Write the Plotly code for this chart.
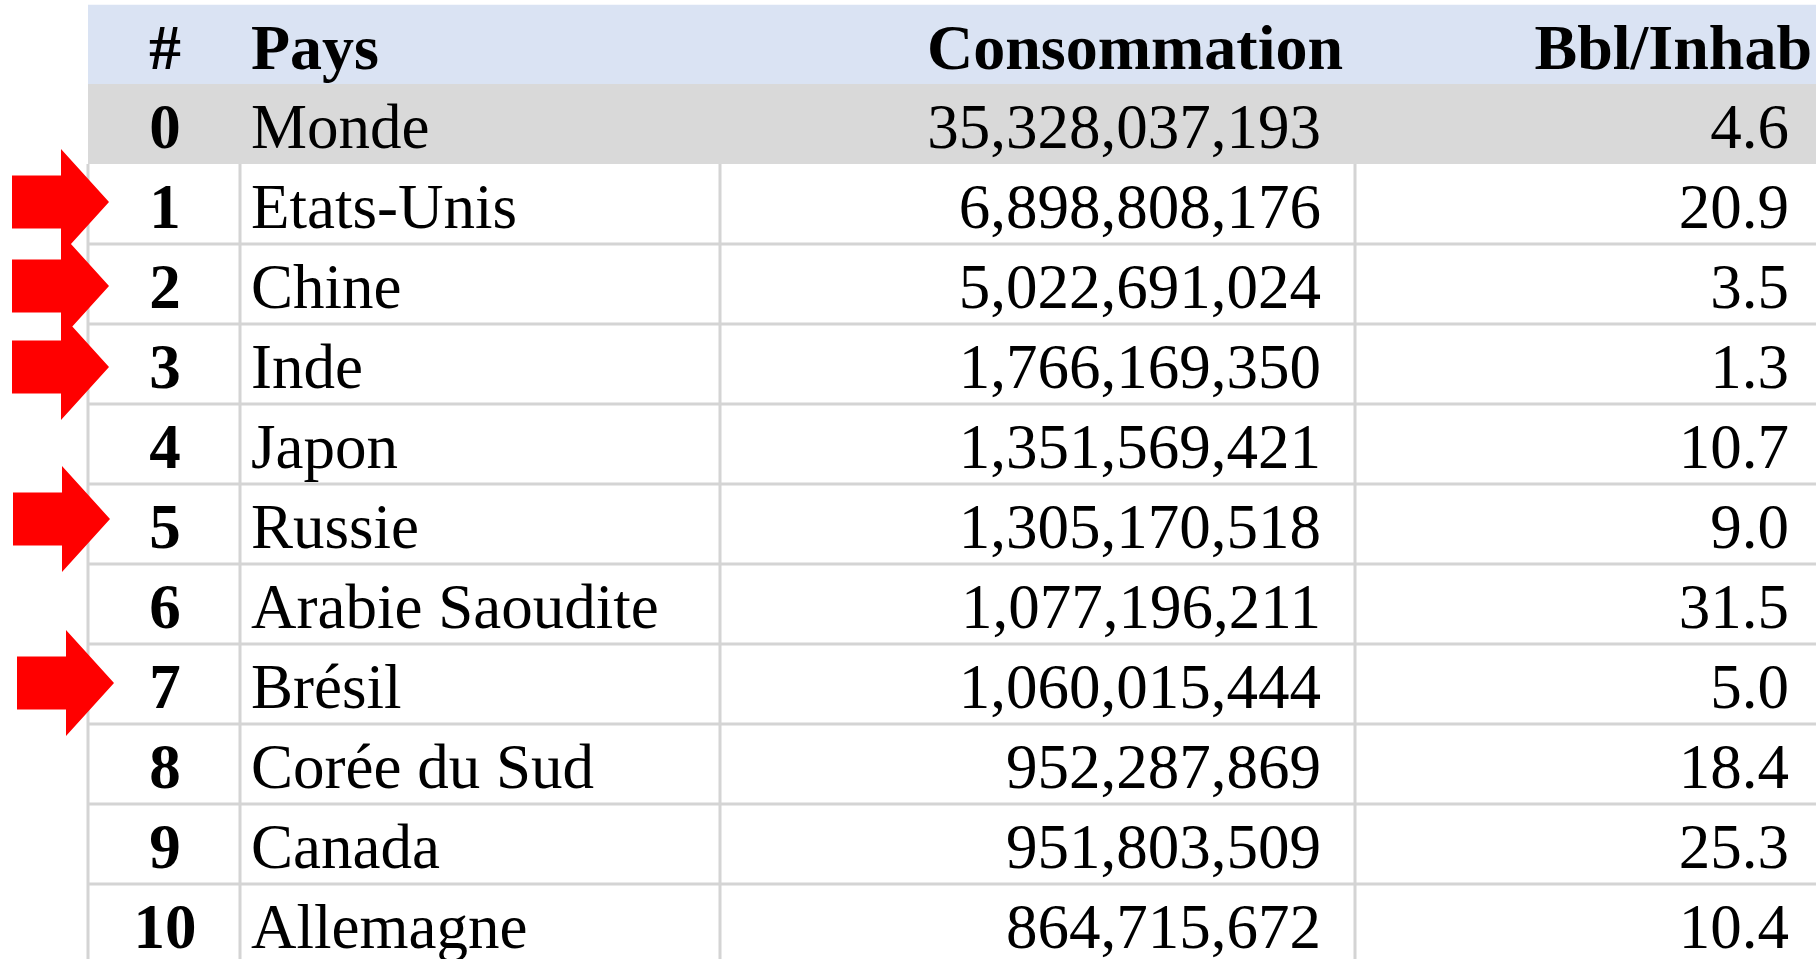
import plotly.graph_objects as go

# ---- data ----
ranks = [0, 1, 2, 3, 4, 5, 6, 7, 8, 9, 10]
countries = ["Monde", "Etats-Unis", "Chine", "Inde", "Japon", "Russie",
             "Arabie Saoudite", "Brésil", "Corée du Sud", "Canada", "Allemagne"]
consumption = [35328037193, 6898808176, 5022691024, 1766169350, 1351569421,
               1305170518, 1077196211, 1060015444, 952287869, 951803509, 864715672]
bbl_per_inhab = [4.6, 20.9, 3.5, 1.3, 10.7, 9.0, 31.5, 5.0, 18.4, 25.3, 10.4]
headers = ["#", "Pays", "Consommation", "Bbl/Inhab"]
highlighted = [1, 2, 3, 5, 7]

# ---- layout constants (pixels on x axis, row units on y axis) ----
W, H = 1816, 959
ROW_PX = 80.0
TOP_PX = 84.0           # pixel of the top of row 0 (Monde)
LEFT = 88
COL_LINES = [240, 720, 1355]
RIGHT = W
FONT = "Liberation Serif"
FS = 63
FS_H = 64
GRID = "#D4D4D4"
HEADER_FILL = "#DAE3F3"
WORLD_FILL = "#D9D9D9"
TEXT_DY = 8 / ROW_PX
HDR_DY = 9 / ROW_PX

y_top = -TOP_PX / ROW_PX
y_bot = (H - TOP_PX) / ROW_PX

# text anchor x positions
X_RANK = 165
X_NAME = 251
X_CONS = 1321
X_BBL = 1789
X_CONS_H = 1343
X_BBL_H = 1812

# arrow fine offsets (px) for hand placement
ARROW_DX = [0, 0, 0, 1, 5]
ARROW_DY = [-2, 2, 3, -5, -1]

fig = go.Figure()

row_y = [r + 0.5 + TEXT_DY for r in ranks]
hdr_y = -0.5 + HDR_DY

def fmt_int(v):
    return f"{v:,}"

fig.add_trace(go.Scatter(x=[X_RANK] * len(ranks), y=row_y, mode="text",
                         text=[f"<b>{r}</b>" for r in ranks], textposition="middle center",
                         textfont=dict(family=FONT, size=FS, color="black"), hoverinfo="skip"))
fig.add_trace(go.Scatter(x=[X_NAME] * len(countries), y=row_y, mode="text",
                         text=countries, textposition="middle right",
                         textfont=dict(family=FONT, size=FS, color="black"), hoverinfo="skip"))
fig.add_trace(go.Scatter(x=[X_CONS] * len(consumption), y=row_y, mode="text",
                         text=[fmt_int(v) for v in consumption], textposition="middle left",
                         textfont=dict(family=FONT, size=FS, color="black"), hoverinfo="skip"))
fig.add_trace(go.Scatter(x=[X_BBL] * len(bbl_per_inhab), y=row_y, mode="text",
                         text=[f"{v:.1f}" for v in bbl_per_inhab], textposition="middle left",
                         textfont=dict(family=FONT, size=FS, color="black"), hoverinfo="skip"))
# header
fig.add_trace(go.Scatter(x=[X_RANK, X_NAME, X_CONS_H, X_BBL_H], y=[hdr_y] * 4, mode="text",
                         text=[f"<b>{h}</b>" for h in headers],
                         textposition=["middle center", "middle right", "middle left", "middle left"],
                         textfont=dict(family=FONT, size=FS_H, color="black"), hoverinfo="skip"))

shapes = []
# fills
shapes.append(dict(type="rect", xref="x", yref="y", x0=LEFT, x1=RIGHT, y0=-1 + 0.01, y1=0,
                   fillcolor=HEADER_FILL, line_width=0, layer="below"))
shapes.append(dict(type="rect", xref="x", yref="y", x0=LEFT, x1=RIGHT, y0=0, y1=1,
                   fillcolor=WORLD_FILL, line_width=0, layer="below"))
# horizontal grid lines
for k in range(2, len(ranks)):
    shapes.append(dict(type="line", xref="x", yref="y", x0=LEFT, x1=RIGHT, y0=k, y1=k,
                       line=dict(color=GRID, width=3), layer="below"))
# vertical grid lines
for xv in [LEFT] + COL_LINES:
    shapes.append(dict(type="line", xref="x", yref="y", x0=xv, x1=xv, y0=1, y1=y_bot + 0.1,
                       line=dict(color=GRID, width=3), layer="below"))

# arrows
for i, r in enumerate(highlighted):
    c = r + 0.5 + ARROW_DY[i] / ROW_PX
    dx = ARROW_DX[i]
    xs, xb, xt = 12 + dx, 61 + dx, 109 + dx
    hs, hh = 26.5 / ROW_PX, 53 / ROW_PX
    path = (f"M {xs},{c - hs} L {xb},{c - hs} L {xb},{c - hh} L {xt},{c} "
            f"L {xb},{c + hh} L {xb},{c + hs} L {xs},{c + hs} Z")
    shapes.append(dict(type="path", xref="x", yref="y", path=path,
                       fillcolor="#FF0000", line_width=0, layer="above"))

fig.update_layout(
    width=W, height=H, margin=dict(l=0, r=0, t=0, b=0),
    paper_bgcolor="white", plot_bgcolor="white", showlegend=False,
    xaxis=dict(range=[0, W], visible=False, fixedrange=True),
    yaxis=dict(range=[y_bot, y_top], visible=False, fixedrange=True),
    shapes=shapes,
)

fig.write_html("out.html",
               config={"displayModeBar": False},
               post_script="document.body.style.margin='0';document.body.style.overflow='hidden';")
